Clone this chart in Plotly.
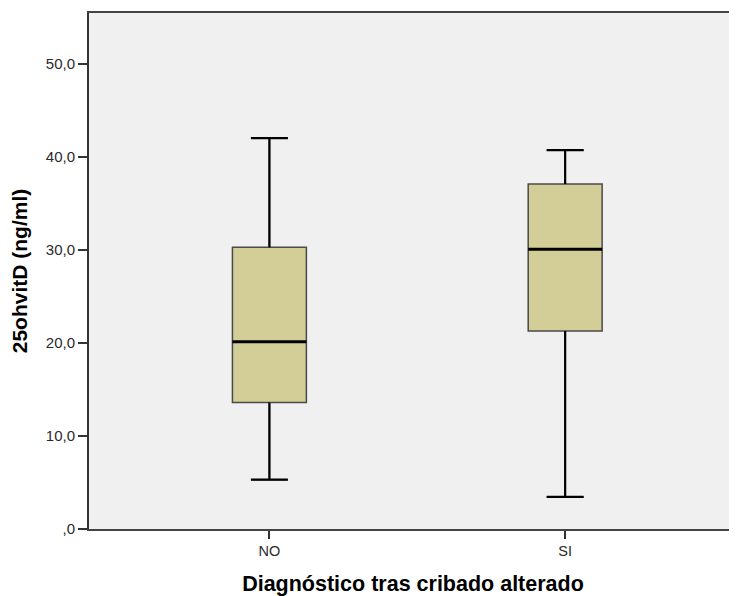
import plotly.graph_objects as go

categories = ["NO", "SI"]
lower_whisker = [5.3, 3.45]
q1 = [13.6, 21.3]
median = [20.15, 30.1]
q3 = [30.3, 37.1]
upper_whisker = [42.05, 40.75]

y_tickvals = [0, 10, 20, 30, 40, 50]
y_ticktext = [",0", "10,0", "20,0", "30,0", "40,0", "50,0"]

BOX_W = 0.25
CAP_W = BOX_W * 0.5
FILL = "#d3ce97"
FONT = "Liberation Sans, Arial, sans-serif"

fig = go.Figure()
for i, cat in enumerate(categories):
    fig.add_trace(go.Box(
        x=[i], q1=[q1[i]], median=[median[i]], q3=[q3[i]],
        lowerfence=[lower_whisker[i]], upperfence=[upper_whisker[i]],
        width=BOX_W, whiskerwidth=0.5, fillcolor=FILL,
        line=dict(color="#4a4a4a", width=1.5), showlegend=False,
        hoverinfo="skip", boxpoints=False,
    ))
    # whiskers
    for a, b in ((q3[i], upper_whisker[i]), (lower_whisker[i], q1[i])):
        fig.add_trace(go.Scatter(x=[i, i], y=[a, b], mode="lines",
                                 line=dict(color="black", width=2.2),
                                 showlegend=False, hoverinfo="skip"))
    for v in (lower_whisker[i], upper_whisker[i]):
        fig.add_trace(go.Scatter(x=[i - CAP_W / 2, i + CAP_W / 2], y=[v, v], mode="lines",
                                 line=dict(color="black", width=2.2),
                                 showlegend=False, hoverinfo="skip"))
    # median
    fig.add_trace(go.Scatter(x=[i - BOX_W / 2, i + BOX_W / 2], y=[median[i], median[i]],
                             mode="lines", line=dict(color="black", width=3),
                             showlegend=False, hoverinfo="skip"))

fig.update_layout(
    width=729, height=588,
    margin=dict(l=81, r=0, t=5, b=67),
    paper_bgcolor="white", plot_bgcolor="#f0f0f0",
    font=dict(family=FONT, size=15, color="#2a2a2a"),
    xaxis=dict(
        range=[-0.61, 1.581], tickmode="array", tickvals=list(range(len(categories))),
        ticktext=categories, ticks="outside", ticklen=8, tickwidth=2, tickcolor="#333",
        showline=True, linecolor="#444", linewidth=2, mirror=True,
        showgrid=False, zeroline=False, automargin=False,
        title=dict(text="<b>Diagnóstico tras cribado alterado</b>",
                   font=dict(family=FONT, size=21.5, color="black"), standoff=21),
        tickfont=dict(family=FONT, size=14.5, color="#2a2a2a"),
    ),
    yaxis=dict(
        range=[0, 55.5], tickmode="array", tickvals=y_tickvals, ticktext=y_ticktext,
        ticks="outside", ticklen=9, tickwidth=2, tickcolor="#333",
        showline=True, linecolor="#333", linewidth=2,
        showgrid=False, zeroline=False, automargin=False,
        title=dict(text="<b>25ohvitD (ng/ml)</b>",
                   font=dict(family=FONT, size=21, color="black"), standoff=13),
        tickfont=dict(family=FONT, size=15, color="#2a2a2a"),
    ),
)

fig.write_html("out.html")
